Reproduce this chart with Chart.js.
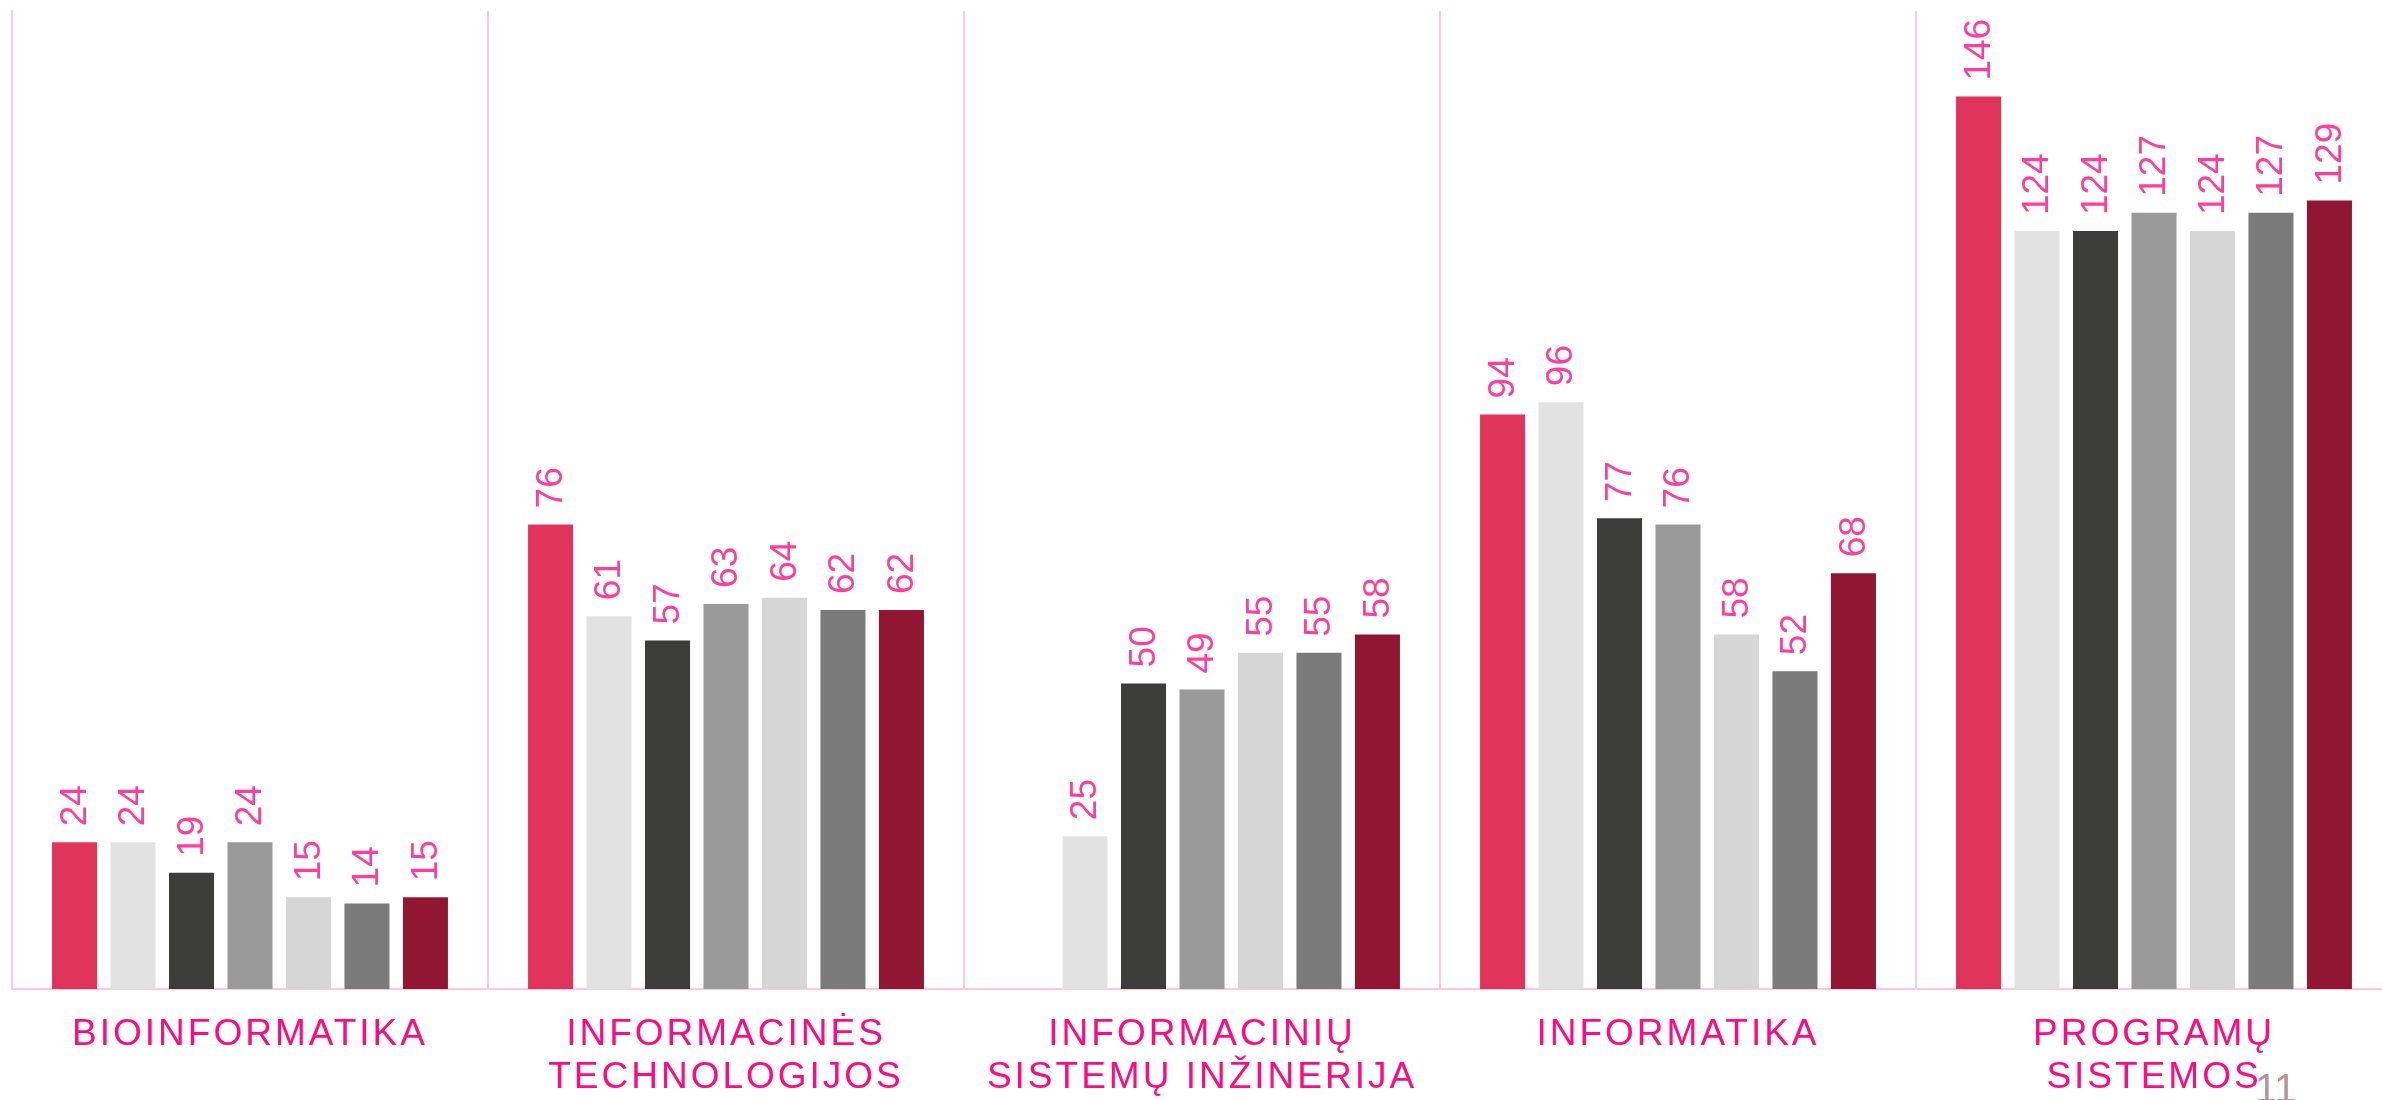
<!DOCTYPE html>
<html>
<head>
<meta charset="utf-8">
<script src="https://cdn.jsdelivr.net/npm/chart.js@4.4.1/dist/chart.umd.min.js"></script>
<style>
    html, body { margin: 0; padding: 0; background: #ffffff; overflow: hidden; }
    #wrap { position: relative; width: 2400px; height: 1100px; }
    #pageNo {
        position: absolute; left: 2255px; top: 1068px;
        font-family: "Liberation Sans", Arial, sans-serif;
        font-size: 40px; line-height: 40px; color: #b5949c;
    }
</style>
</head>
<body>
<div id="wrap">
    <canvas id="studentsChart"></canvas>
    <div id="pageNo">11</div>
</div>
<script>
// ====
// Data
// ====
const programmes = [
    'BIOINFORMATIKA',
    ['INFORMACINĖS', 'TECHNOLOGIJOS'],
    ['INFORMACINIŲ', 'SISTEMŲ INŽINERIJA'],
    'INFORMATIKA',
    ['PROGRAMŲ', 'SISTEMOS']
];

const series1 = [24, 76, null, 94, 146];
const series2 = [24, 61, 25, 96, 124];
const series3 = [19, 57, 50, 77, 124];
const series4 = [24, 63, 49, 76, 127];
const series5 = [15, 64, 55, 58, 124];
const series6 = [14, 62, 55, 52, 127];
const series7 = [15, 62, 58, 68, 129];

const seriesNames = ['1', '2', '3', '4', '5', '6', '7'];
const seriesColors = ['#e0345a', '#e2e2e2', '#3c3c3b', '#9a9a9a', '#d6d6d6', '#7a7a7a', '#901631'];

const yMin = 0;
const yMax = 160;

// =============
// Value labels
// =============
const valueLabels = {
    id: 'valueLabels',
    beforeDraw(chart) {
        // spaced-out category names
        chart.ctx.letterSpacing = '3px';
    },
    afterDatasetsDraw(chart) {
        const ctx = chart.ctx;
        ctx.save();
        ctx.letterSpacing = '0px';
        ctx.font = '37px "Liberation Sans", Arial, sans-serif';
        ctx.fillStyle = '#ff3e9b';
        ctx.textAlign = 'left';
        ctx.textBaseline = 'middle';
        chart.data.datasets.forEach((ds, i) => {
            const meta = chart.getDatasetMeta(i);
            meta.data.forEach((bar, j) => {
                const v = ds.data[j];
                if (v === null || v === undefined) return;
                ctx.save();
                ctx.translate(bar.x + 1, bar.y - 16);
                ctx.rotate(-Math.PI / 2);
                ctx.fillText(String(v), 0, 0);
                ctx.restore();
            });
        });
        ctx.restore();
        ctx.letterSpacing = '3px';
    }
};

const allSeries = [series1, series2, series3, series4, series5, series6, series7];

const ctx = document.getElementById('studentsChart').getContext('2d');
new Chart(ctx, {
    type: 'bar',
    data: {
        labels: programmes,
        datasets: allSeries.map((data, i) => ({
            label: seriesNames[i],
            data,
            backgroundColor: seriesColors[i],
            borderWidth: 0,
            barPercentage: 0.77,
            categoryPercentage: 0.86
        }))
    },
    options: {
        responsive: true,
        maintainAspectRatio: false,
        animation: false,
        layout: { padding: { left: 12, top: 11, right: 8, bottom: 0 } },
        plugins: {
            legend: { display: false },
            tooltip: { enabled: false }
        },
        scales: {
            x: {
                offset: true,
                grid: {
                    offset: true,
                    drawTicks: false,
                    color: '#ffc8e0',
                    lineWidth: 2
                },
                border: { color: '#ffc8e0', width: 2 },
                ticks: {
                    color: '#ff0a80',
                    padding: 24,
                    maxRotation: 0,
                    autoSkip: false,
                    font: { family: '"Liberation Sans", Arial, sans-serif', size: 37, lineHeight: 1.16 }
                },
                afterFit(scale) { scale.height = 111; }
            },
            y: {
                min: yMin,
                max: yMax,
                display: true,
                grid: { display: false, drawTicks: false },
                border: { color: '#ffc8e0', width: 2 },
                ticks: { display: false },
                afterFit(scale) { scale.width = 0; }
            }
        }
    },
    plugins: [valueLabels]
});
</script>
</body>
</html>
